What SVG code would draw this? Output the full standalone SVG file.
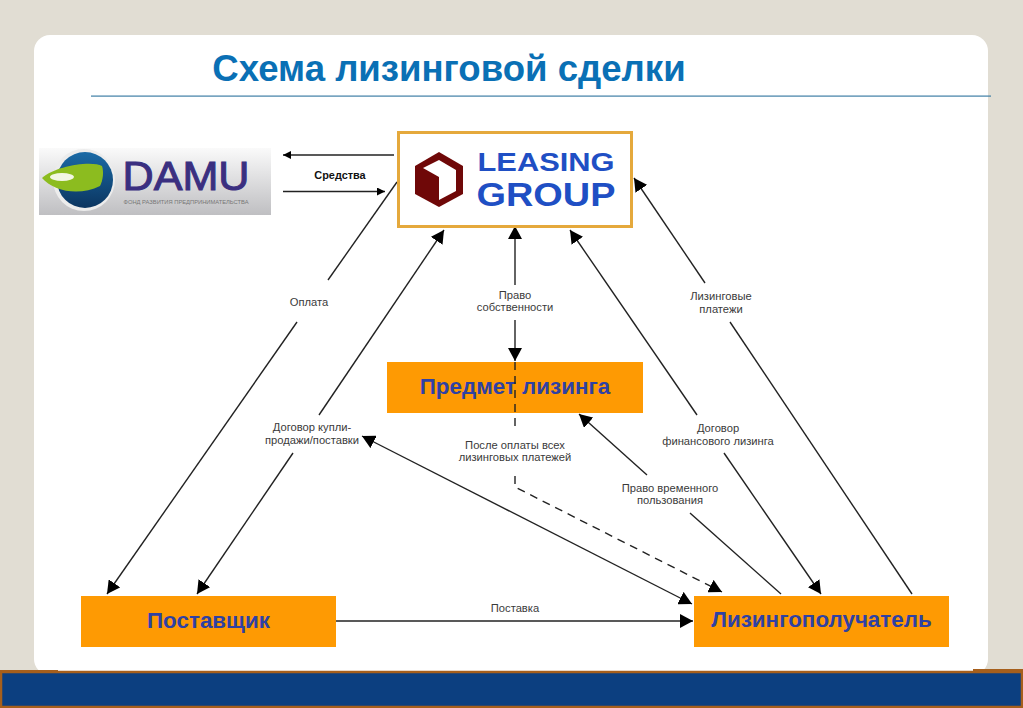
<svg xmlns="http://www.w3.org/2000/svg" width="1023" height="708" viewBox="0 0 1023 708">
<style>
text{font-family:"Liberation Sans",Arial,sans-serif}
.lbl{font-size:11.2px;fill:#3a3a3a;text-anchor:middle}
.box{fill:#fe9a03}
.nt{font-size:22.4px;font-weight:bold;fill:#2f41a3;text-anchor:middle}
.c{fill:none;stroke:#222;stroke-width:1.4}
</style>
<defs>
<marker id="a" markerUnits="userSpaceOnUse" markerWidth="14" markerHeight="14" refX="13" refY="7" orient="auto-start-reverse"><path d="M0 0L13 7L0 14z" fill="#000"/></marker>
<marker id="s" markerUnits="userSpaceOnUse" markerWidth="10" markerHeight="8" refX="8" refY="4" orient="auto-start-reverse"><path d="M0 0L8 4L0 8z" fill="#000"/></marker>
<linearGradient id="dg" x1="0" y1="0" x2="0" y2="1"><stop offset="0" stop-color="#fafafa"/><stop offset="1" stop-color="#bfbfc2"/></linearGradient>
<linearGradient id="ball" x1="0" y1="0" x2="0" y2="1"><stop offset="0" stop-color="#1a6aa6"/><stop offset="1" stop-color="#0b3560"/></linearGradient>
</defs>
<rect width="1023" height="708" fill="#e1ddd3"/>
<rect x="34" y="35" width="954" height="640" rx="16" fill="#fff"/>
<rect x="58" y="660" width="915" height="12" fill="#fff"/>
<text x="449" y="81" font-size="36.600px" font-weight="bold" fill="#0a70b5" text-anchor="middle">Схема лизинговой сделки</text>
<rect x="91" y="95.500" width="900" height="1.200" fill="#3f7fa6"/>
<g id="footer"><rect x="0" y="670" width="58" height="3" fill="#a65f1c"/><rect x="973" y="669" width="50" height="3" fill="#a65f1c"/><rect x="1" y="672" width="1021" height="35" fill="#0c3f80" stroke="#a65f1c" stroke-width="2.500"/></g>

<g id="connectors">
<path class="c" d="M394 155H283" marker-end="url(#s)"/>
<path class="c" d="M283 191.500H385" marker-end="url(#s)"/>
<path class="c" d="M397 182L328 280"/>
<path class="c" d="M297 322L107 594" marker-end="url(#a)"/>
<path class="c" d="M319 415L444 230" marker-end="url(#a)"/>
<path class="c" d="M293 453L197 594" marker-end="url(#a)"/>
<path class="c" d="M515 285V226" marker-end="url(#a)"/>
<path class="c" d="M515 320V361" marker-end="url(#a)"/>
<path class="c" d="M515 476V487L722 592" stroke-dasharray="8 6" marker-end="url(#a)"/>
<path class="c" d="M705 283L634 178" marker-end="url(#a)"/>
<path class="c" d="M730 322L912 594"/>
<path class="c" d="M697 415L570 230" marker-end="url(#a)"/>
<path class="c" d="M724 453L821 594" marker-end="url(#a)"/>
<path class="c" d="M647 475L579 414" marker-end="url(#a)"/>
<path class="c" d="M690 513L781 594"/>
<path class="c" d="M362 436L692 604" marker-start="url(#a)" marker-end="url(#a)"/>
<path class="c" d="M336 621H693" marker-end="url(#a)"/>
</g>

<g id="damu">
<rect x="39" y="148" width="232" height="67" fill="url(#dg)"/>
<circle cx="84" cy="180" r="31" fill="#ececec"/>
<circle cx="85" cy="180" r="28" fill="url(#ball)"/>
<path d="M42 178C54 166 92 160 102 166C104 172 103 180 100 186C80 196 54 192 42 178z" fill="#8cbc1f"/>
<ellipse cx="62" cy="177" rx="12" ry="4" fill="#f2f6e4"/>
<text x="186" y="190" font-size="40px" fill="#3a2f80" stroke="#3a2f80" stroke-width="1" text-anchor="middle" textLength="127" lengthAdjust="spacingAndGlyphs">DAMU</text>
<text x="186" y="204" font-size="5.600px" fill="#777" text-anchor="middle" textLength="125" lengthAdjust="spacingAndGlyphs">ФОНД РАЗВИТИЯ ПРЕДПРИНИМАТЕЛЬСТВА</text>
</g>

<g id="leasing">
<rect x="398.500" y="132.500" width="233" height="94" fill="#fff" stroke="#e5a93c" stroke-width="3"/>
<path d="M439 152L463 166V194L439 207L415 194V166z" fill="#6f0808"/>
<path d="M439 160L456 170V191L439 200V177L423 168z" fill="#fff"/>
<text x="546" y="170.500" font-size="26px" font-weight="bold" fill="#1f4fc4" text-anchor="middle" textLength="137" lengthAdjust="spacingAndGlyphs">LEASING</text>
<text x="546" y="206" font-size="33px" font-weight="bold" fill="#1f4fc4" text-anchor="middle" textLength="139" lengthAdjust="spacingAndGlyphs">GROUP</text>
</g>

<g id="predmet"><rect class="box" x="387" y="362" width="256" height="51"/><text class="nt" x="515" y="394">Предмет лизинга</text>
</g>
<path class="c" d="M515 362V432" stroke-dasharray="8 6"/>
<g id="supplier"><rect class="box" x="81" y="596" width="255" height="51"/><text class="nt" x="208.500" y="628">Поставщик</text></g>
<g id="lessee"><rect class="box" x="694" y="596" width="255" height="51"/><text class="nt" x="821.500" y="627">Лизингополучатель</text></g>

<g id="labels">
<text x="340" y="179" font-size="10.900px" font-weight="bold" fill="#111" text-anchor="middle">Средства</text>
<text class="lbl" x="309" y="306">Оплата</text>
<text class="lbl"><tspan x="312" y="431">Договор купли-</tspan><tspan x="312" y="444">продажи/поставки</tspan></text>
<text class="lbl"><tspan x="515" y="299">Право</tspan><tspan x="515" y="311">собственности</tspan></text>
<text class="lbl"><tspan x="515" y="449">После оплаты всех</tspan><tspan x="515" y="461">лизинговых платежей</tspan></text>
<text class="lbl"><tspan x="721" y="300">Лизинговые</tspan><tspan x="721" y="313">платежи</tspan></text>
<text class="lbl"><tspan x="718" y="432">Договор</tspan><tspan x="718" y="445">финансового лизинга</tspan></text>
<text class="lbl"><tspan x="670" y="492">Право временного</tspan><tspan x="670" y="504">пользования</tspan></text>
<text class="lbl" x="515" y="612">Поставка</text>
</g>
</svg>
